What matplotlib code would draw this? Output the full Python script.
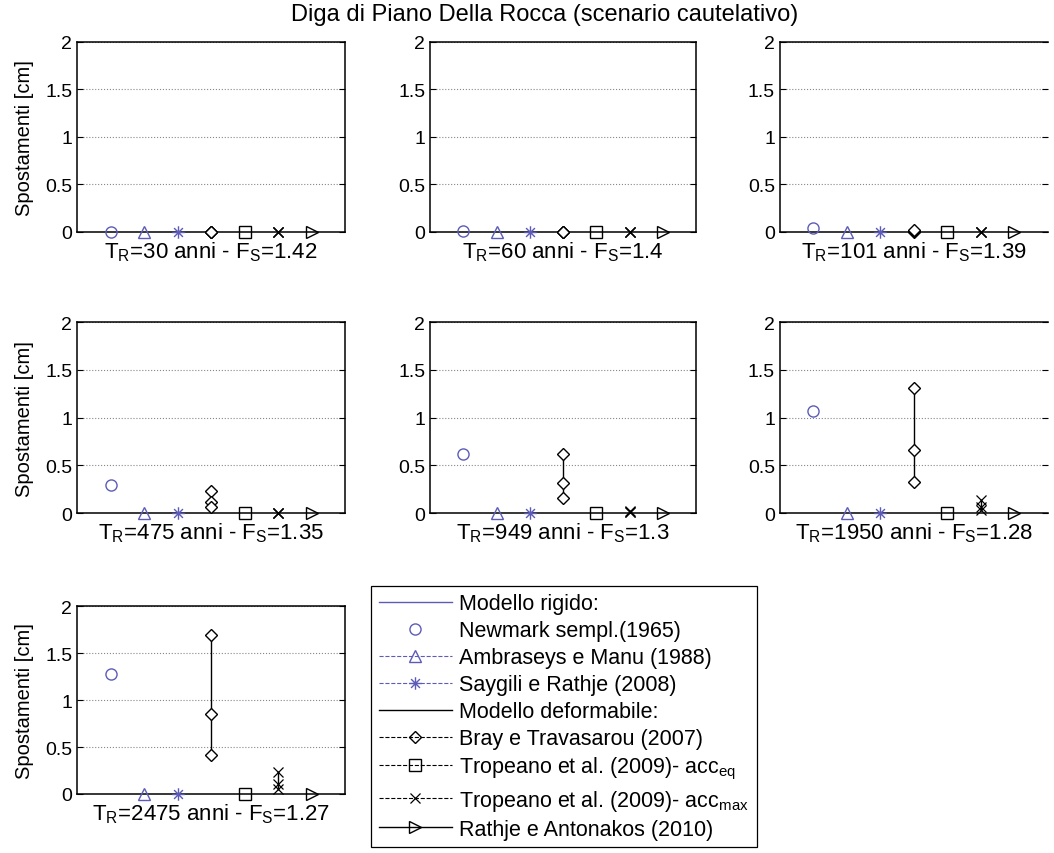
import numpy as np
import matplotlib.pyplot as plt
from matplotlib.lines import Line2D
from matplotlib.path import Path

plt.rcParams['font.family'] = ['Liberation Sans', 'DejaVu Sans']
plt.rcParams['mathtext.default'] = 'regular'

# return periods and safety factors for each panel
tr_list = ['30', '60', '101', '475', '949', '1950', '2475']
fs_list = ['1.42', '1.4', '1.39', '1.35', '1.3', '1.28', '1.27']

# displacements [cm], one entry per panel
newmark = [0.0, 0.01, 0.04, 0.29, 0.62, 1.07, 1.28]
ambraseys = [0.0, 0.0, 0.0, 0.0, 0.0, 0.0, 0.0]
saygili = [0.0, 0.0, 0.0, 0.0, 0.0, 0.0, 0.0]
bray = [[0.0, 0.0, 0.0], [0.0, 0.0, 0.0], [0.0, 0.01, 0.02], [0.23, 0.12, 0.06],
        [0.62, 0.31, 0.16], [1.31, 0.66, 0.33], [1.69, 0.85, 0.41]]
tropeano_eq = [0.0, 0.0, 0.0, 0.0, 0.0, 0.0, 0.0]
tropeano_max = [[0.0, 0.0, 0.0], [0.0, 0.0, 0.0], [0.0, 0.0, 0.0], [0.0, 0.0, 0.0],
                [0.02, 0.01, 0.01], [0.14, 0.06, 0.03], [0.23, 0.11, 0.05]]
rathje = [0.0, 0.0, 0.0, 0.0, 0.0, 0.0, 0.0]

blue = '#5c5cb8'
ms = 8

# matlab style asterisk (plus + cross)
d = 0.7071
asterisk = Path([(0, -1), (0, 1), (-1, 0), (1, 0), (-d, -d), (d, d), (-d, d), (d, -d)],
                [Path.MOVETO, Path.LINETO] * 4)

fig = plt.figure(figsize=(10.54, 8.54), dpi=100)

# axes positions (left, bottom, width, height) in figure fraction
cols = [(0.0731, 0.2543), (0.408, 0.2524), (0.740, 0.2543)]
rows = [(0.7272, 0.2225), (0.398, 0.2237), (0.0691, 0.220)]

for i in range(7):
    r, c = divmod(i, 3)
    ax = fig.add_axes([cols[c][0], rows[r][0], cols[c][1], rows[r][1]])
    kw = dict(clip_on=False, markersize=ms, markerfacecolor='none', zorder=3)
    ax.plot([1], [newmark[i]], 'o', color=blue, **kw)
    ax.plot([2], [ambraseys[i]], '^', color=blue, **kw)
    ax.plot([3], [saygili[i]], marker=asterisk, ls='none', color=blue,
            markeredgewidth=1, clip_on=False, markersize=9, zorder=3)
    ax.plot([4] * len(bray[i]), bray[i], 'D-', color='k', lw=1, markersize=6.5,
            markerfacecolor='white', clip_on=False, zorder=3, markeredgewidth=1)
    ax.plot([5], [tropeano_eq[i]], 's', color='k', **kw)
    ax.plot([6] * len(tropeano_max[i]), tropeano_max[i], 'x-', color='k', lw=1,
            clip_on=False, markersize=7, markeredgewidth=0.9, zorder=3)
    ax.plot([7], [rathje[i]], '>', color='k', **kw)

    ax.set_xlim(0, 8)
    ax.set_ylim(0, 2)
    ax.set_xticks([])
    ax.set_yticks([0, 0.5, 1, 1.5, 2])
    ax.set_yticklabels(['0', '0.5', '1', '1.5', '2'])
    ax.tick_params(axis='y', direction='in', right=True, labelsize=14, length=4)
    ax.grid(axis='y', linestyle=':', color='#888888', linewidth=0.8)
    for s in ax.spines.values():
        s.set_linewidth(1.1)
    if c == 2:
        # right edge is cut off in the original
        ax.spines['right'].set_visible(False)
    ax.set_xlabel('T$_R$=' + tr_list[i] + ' anni - F$_S$=' + fs_list[i],
                  fontsize=16, labelpad=5)
    if c == 0:
        ax.set_ylabel('Spostamenti [cm]', fontsize=14.5, labelpad=8)

fig.text(0.517, 0.982, 'Diga di Piano Della Rocca (scenario cautelativo)',
         ha='center', va='center', fontsize=17)

handles = [
    Line2D([], [], color=blue, lw=1),
    Line2D([], [], color=blue, ls='none', marker='o', markerfacecolor='none', markersize=ms),
    Line2D([], [], color=blue, ls='--', lw=0.8, marker='^', markerfacecolor='none', markersize=ms),
    Line2D([], [], color=blue, ls='--', lw=0.8, marker=asterisk, markersize=9, markeredgewidth=1),
    Line2D([], [], color='k', lw=1),
    Line2D([], [], color='k', ls='--', lw=0.8, marker='D', markerfacecolor='none', markersize=6.5),
    Line2D([], [], color='k', ls='--', lw=0.8, marker='s', markerfacecolor='none', markersize=ms),
    Line2D([], [], color='k', ls='--', lw=0.8, marker='x', markersize=7, markeredgewidth=0.9),
    Line2D([], [], color='k', lw=1, marker='>', markerfacecolor='none', markersize=ms),
]
labels = [
    'Modello rigido:',
    'Newmark sempl.(1965)',
    'Ambraseys e Manu (1988)',
    'Saygili e Rathje (2008)',
    'Modello deformabile:',
    'Bray e Travasarou (2007)',
    'Tropeano et al. (2009)- acc$_{eq}$',
    'Tropeano et al. (2009)- acc$_{max}$',
    'Rathje e Antonakos (2010)',
]
leg = fig.legend(handles, labels, loc='upper left', bbox_to_anchor=(0.352, 0.313),
                 fontsize=15.5, handlelength=3.4, numpoints=1, fancybox=False,
                 edgecolor='k', framealpha=1, labelspacing=0.28, borderpad=0.35,
                 handletextpad=0.35, borderaxespad=0)
leg.get_frame().set_linewidth(0.9)

fig.savefig('out.png', dpi=100)
